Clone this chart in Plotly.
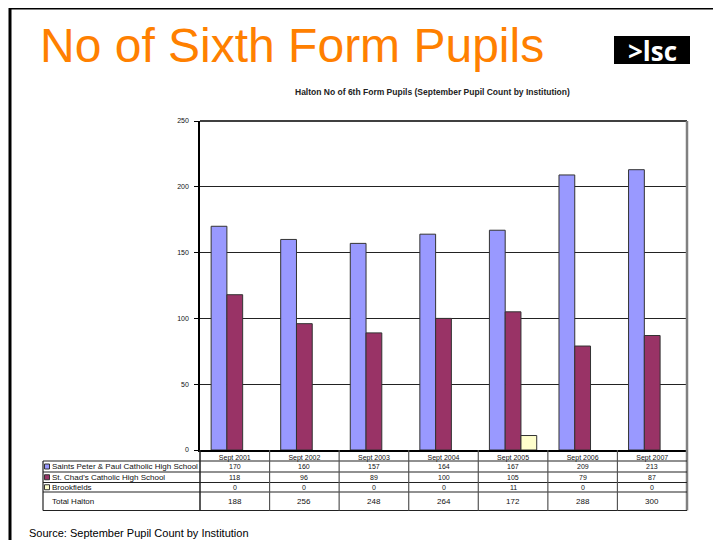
import plotly.graph_objects as go

# ---------------- data ----------------
categories = ["Sept 2001", "Sept 2002", "Sept 2003", "Sept 2004", "Sept 2005", "Sept 2006", "Sept 2007"]
series_names = ["Saints Peter & Paul Catholic High School", "St. Chad's Catholic High School", "Brookfields"]
saints_peter_paul = [170, 160, 157, 164, 167, 209, 213]
st_chads = [118, 96, 89, 100, 105, 79, 87]
brookfields = [0, 0, 0, 0, 11, 0, 0]
total_halton = [188, 256, 248, 264, 172, 288, 300]
y_ticks = [0, 50, 100, 150, 200, 250]

colors = ["#9999FF", "#993366", "#FFFFCC"]
FONT = "Liberation Sans, Arial, sans-serif"

# ---------------- layout geometry (screen pixels) ----------------
OFF = 8                      # page body margin
FW, FH = 721 - 2 * OFF, 548 - 2 * OFF
L, R, T, B = 200, 687, 121, 450   # plot area on screen
W, H = R - L, B - T


def px(x):
    return (x - L) / W


def py(y):
    return (B - y) / H


fig = go.Figure()
for name, vals, col in zip(series_names, [saints_peter_paul, st_chads, brookfields], colors):
    fig.add_trace(go.Bar(
        x=categories, y=vals, name=name,
        marker=dict(color=col, line=dict(color="#333333", width=[1 if v else 0 for v in vals])),
        showlegend=False,
    ))

shapes = []
annotations = []

# slide border
shapes.append(dict(type="rect", xref="paper", yref="paper",
                   x0=px(10), y0=py(8), x1=px(760), y1=py(600),
                   line=dict(color="black", width=3), fillcolor="rgba(0,0,0,0)"))

# logo
shapes.append(dict(type="rect", xref="paper", yref="paper",
                   x0=px(614), y0=py(36), x1=px(690), y1=py(64),
                   line=dict(width=0), fillcolor="black"))
annotations.append(dict(xref="paper", yref="paper", x=px(652), y=py(51),
                        text=">lsc", showarrow=False, xanchor="center", yanchor="middle",
                        font=dict(family="Open Sans, DejaVu Sans, sans-serif", size=26,
                                  color="white", weight="bold")))

# main slide title
annotations.append(dict(xref="paper", yref="paper", x=px(38), y=py(46),
                        text="No of Sixth Form Pupils", showarrow=False,
                        xanchor="left", yanchor="middle",
                        font=dict(family=FONT, size=48, color="#FF8000")))

# chart title
annotations.append(dict(xref="paper", yref="paper", x=px(432), y=py(92),
                        text="<b>Halton No of 6th Form Pupils (September Pupil Count by Institution)</b>",
                        showarrow=False, xanchor="center", yanchor="middle",
                        font=dict(family=FONT, size=8.5, color="#222222")))

# source
annotations.append(dict(xref="paper", yref="paper", x=px(27), y=py(533),
                        text="Source: September Pupil Count by Institution", showarrow=False,
                        xanchor="left", yanchor="middle",
                        font=dict(family=FONT, size=11, color="black")))

# plot frame: top black, right gray
shapes.append(dict(type="line", xref="x domain", yref="y domain", x0=0, x1=1, y0=1, y1=1,
                   line=dict(color="black", width=1.5)))
shapes.append(dict(type="line", xref="x domain", yref="paper", x0=1, x1=1, y0=1, y1=py(510.5),
                   line=dict(color="#808080", width=2.5)))

# ---------------- data table ----------------
row_edges = [450, 461, 472, 482.5, 492, 510.5]
n = len(categories)
for yy in row_edges[1:]:
    shapes.append(dict(type="line", xref="paper", yref="paper", x0=px(43), x1=px(687),
                       y0=py(yy), y1=py(yy), line=dict(color="#222222", width=1.2)))
shapes.append(dict(type="line", xref="paper", yref="paper", x0=px(43), x1=px(43),
                   y0=py(row_edges[1]), y1=py(row_edges[-1]), line=dict(color="#222222", width=1.2)))
for i in range(0, n):
    shapes.append(dict(type="line", xref="x domain", yref="paper", x0=i / n, x1=i / n,
                       y0=py(row_edges[0]), y1=py(row_edges[-1]),
                       line=dict(color="#222222" if i == 0 else "#555555", width=1.5 if i == 0 else 1.2)))

rows = [saints_peter_paul, st_chads, brookfields, total_halton]
row_labels = series_names + ["Total Halton"]
for r, (vals, lab) in enumerate(zip(rows, row_labels)):
    yc = (row_edges[r + 1] + row_edges[r + 2]) / 2
    fs = 8 if r == 3 else 7
    for c, v in zip(categories, vals):
        annotations.append(dict(xref="x", yref="paper", x=c, y=py(yc), text=str(v),
                                showarrow=False, xanchor="center", yanchor="middle",
                                font=dict(family=FONT, size=fs, color="#111111")))
    if r < 3:
        shapes.append(dict(type="rect", xref="paper", yref="paper",
                           x0=px(44.5), x1=px(49.5), y0=py(yc - 2.5), y1=py(yc + 2.5),
                           fillcolor=colors[r], line=dict(color="#333333", width=1)))
    annotations.append(dict(xref="paper", yref="paper", x=px(50), y=py(yc), text=lab,
                            showarrow=False, xanchor="left", yanchor="middle",
                            font=dict(family=FONT, size=8, color="#111111")))

fig.update_layout(
    width=FW, height=FH, autosize=False,
    margin=dict(l=L - OFF, r=FW - (R - OFF), t=T - OFF, b=FH - (B - OFF), pad=0),
    paper_bgcolor="white", plot_bgcolor="white",
    barmode="group", bargap=0.32, bargroupgap=0,
    font=dict(family=FONT, color="black"),
    shapes=shapes, annotations=annotations,
    xaxis=dict(type="category", showline=True, linecolor="black", linewidth=1.5,
               ticks="", showgrid=False, tickfont=dict(size=7, color="#111111"),
               ticklabelstandoff=0, fixedrange=True),
    yaxis=dict(range=[0, 250], tickvals=y_ticks, showline=True, linecolor="black", linewidth=1.5,
               ticks="outside", ticklen=4, tickcolor="black", showgrid=True,
               gridcolor="#222222", gridwidth=1, zeroline=False,
               tickfont=dict(size=7, color="#111111"), ticklabelstandoff=4, fixedrange=True),
)

fig.write_html("out.html")
